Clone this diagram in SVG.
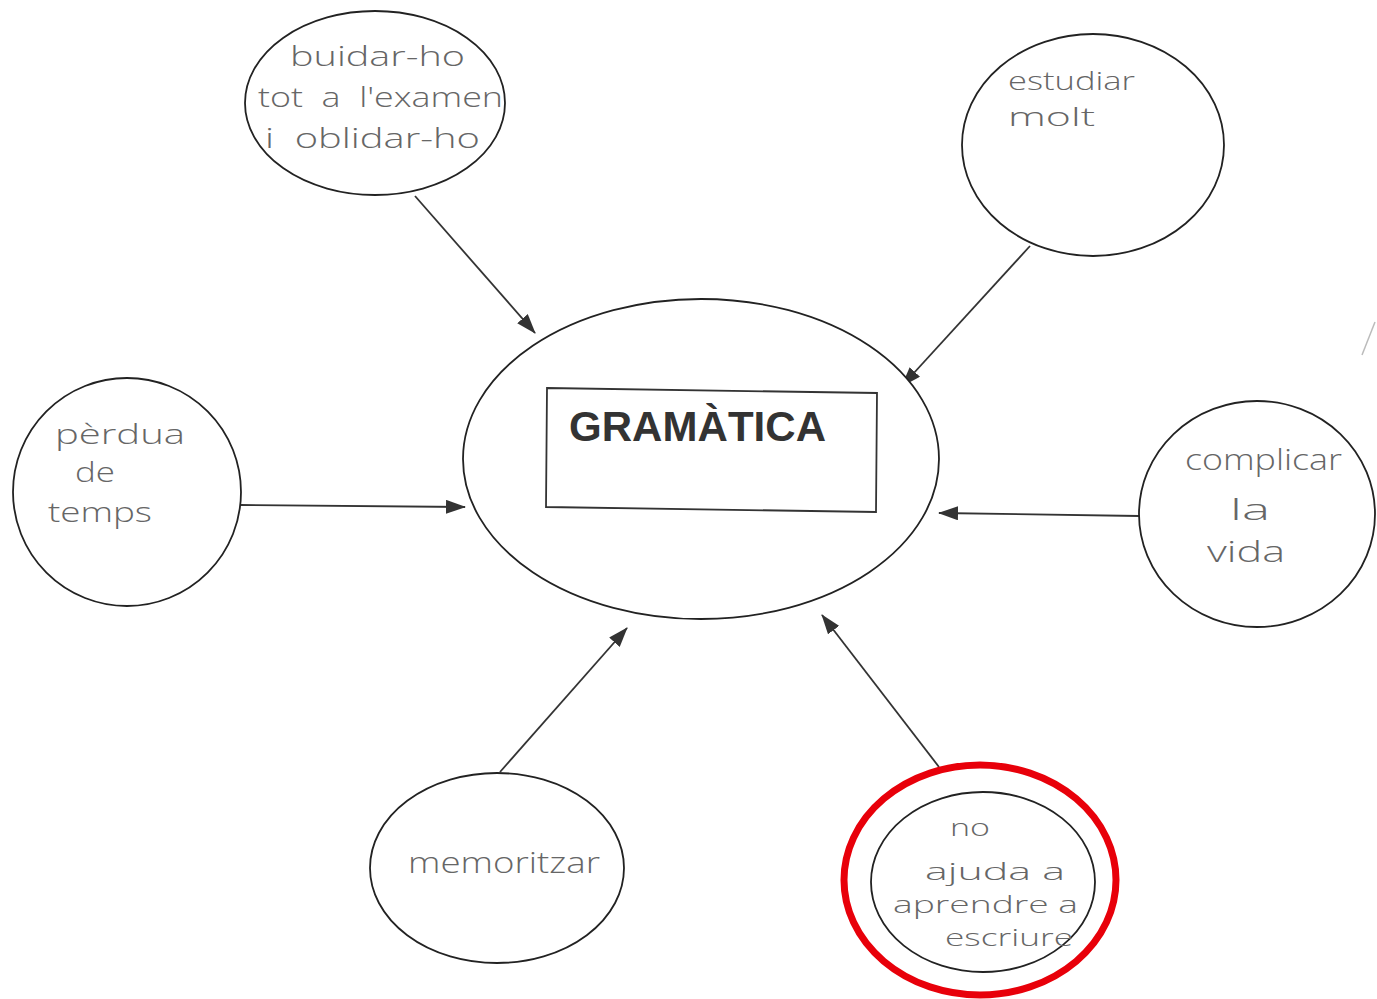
<svg xmlns="http://www.w3.org/2000/svg" width="1377" height="999" viewBox="0 0 1377 999">
<defs>
<style>
.node{fill:#fff;stroke:#222;stroke-width:1.8}
.hw{font-family:"Open Sans","DejaVu Sans",sans-serif;font-weight:300;fill:#666}
.conn{stroke:#333;stroke-width:1.8;fill:none}
</style>
<marker id="ah" viewBox="0 0 20 14" refX="19" refY="7" markerWidth="20" markerHeight="14" markerUnits="userSpaceOnUse" orient="auto">
<path d="M0,0 L20,7 L0,14 Z" fill="#333"/>
</marker>
</defs>
<rect width="1377" height="999" fill="#fff"/>
<g id="connectors">
<line class="conn" x1="415" y1="196" x2="535" y2="333" marker-end="url(#ah)"/>
<line class="conn" x1="1030" y1="246" x2="902" y2="386" marker-end="url(#ah)"/>
<line class="conn" x1="241" y1="505" x2="465" y2="507" marker-end="url(#ah)"/>
<line class="conn" x1="1139" y1="516" x2="939" y2="513" marker-end="url(#ah)"/>
<line class="conn" x1="500" y1="772" x2="627" y2="628" marker-end="url(#ah)"/>
<line class="conn" x1="939" y1="767" x2="822" y2="615" marker-end="url(#ah)"/>
</g>
<g id="gramatica">
<ellipse class="node" cx="701" cy="459" rx="238" ry="160"/>
<path d="M547,388 L877,393 L876,512 L546,507 Z" fill="none" stroke="#333" stroke-width="1.8"/>
<text x="569" y="441" font-family="Liberation Sans, Arial, sans-serif" font-weight="bold" font-size="42" fill="#333" textLength="257">GRAMÀTICA</text>
</g>
<g id="buidar" class="hw" font-size="28">
<ellipse class="node" cx="375" cy="103" rx="130" ry="92"/>
<text x="290" y="66" textLength="175" lengthAdjust="spacingAndGlyphs">buidar-ho</text>
<text x="258" y="107" textLength="245" lengthAdjust="spacingAndGlyphs" xml:space="preserve">tot  a  l'examen</text>
<text x="265" y="148" textLength="215" lengthAdjust="spacingAndGlyphs" xml:space="preserve">i  oblidar-ho</text>
</g>
<g id="estudiar" class="hw" font-size="25">
<ellipse class="node" cx="1093" cy="145" rx="131" ry="111"/>
<text x="1008" y="90" textLength="127" lengthAdjust="spacingAndGlyphs">estudiar</text>
<text x="1008" y="126" textLength="87" lengthAdjust="spacingAndGlyphs">molt</text>
</g>
<g id="perdua" class="hw" font-size="27">
<ellipse class="node" cx="127" cy="492" rx="114" ry="114"/>
<text x="55" y="444" textLength="130" lengthAdjust="spacingAndGlyphs">pèrdua</text>
<text x="75" y="482" textLength="40" lengthAdjust="spacingAndGlyphs">de</text>
<text x="48" y="522" textLength="104" lengthAdjust="spacingAndGlyphs">temps</text>
</g>
<g id="complicar" class="hw" font-size="29">
<ellipse class="node" cx="1257" cy="514" rx="118" ry="113"/>
<text x="1185" y="470" textLength="157" lengthAdjust="spacingAndGlyphs">complicar</text>
<text x="1230" y="520" textLength="40" lengthAdjust="spacingAndGlyphs">la</text>
<text x="1207" y="562" textLength="78" lengthAdjust="spacingAndGlyphs">vida</text>
</g>
<g id="memoritzar" class="hw" font-size="30">
<ellipse class="node" cx="497" cy="868" rx="127" ry="95"/>
<text x="408" y="873" textLength="192" lengthAdjust="spacingAndGlyphs">memoritzar</text>
</g>
<g id="no-ajuda" class="hw" font-size="24">
<ellipse class="node" cx="983" cy="882" rx="112" ry="90"/>
<text x="950" y="836" textLength="40" lengthAdjust="spacingAndGlyphs">no</text>
<text x="925" y="880" textLength="140" lengthAdjust="spacingAndGlyphs">ajuda a</text>
<text x="893" y="913" textLength="185" lengthAdjust="spacingAndGlyphs">aprendre a</text>
<text x="945" y="946" textLength="128" lengthAdjust="spacingAndGlyphs">escriure</text>
<ellipse cx="980" cy="880" rx="136" ry="115" fill="none" stroke="#e8000a" stroke-width="7"/>
</g>
<line x1="1375" y1="322" x2="1362" y2="355" stroke="#bbb" stroke-width="1.5"/>
</svg>
